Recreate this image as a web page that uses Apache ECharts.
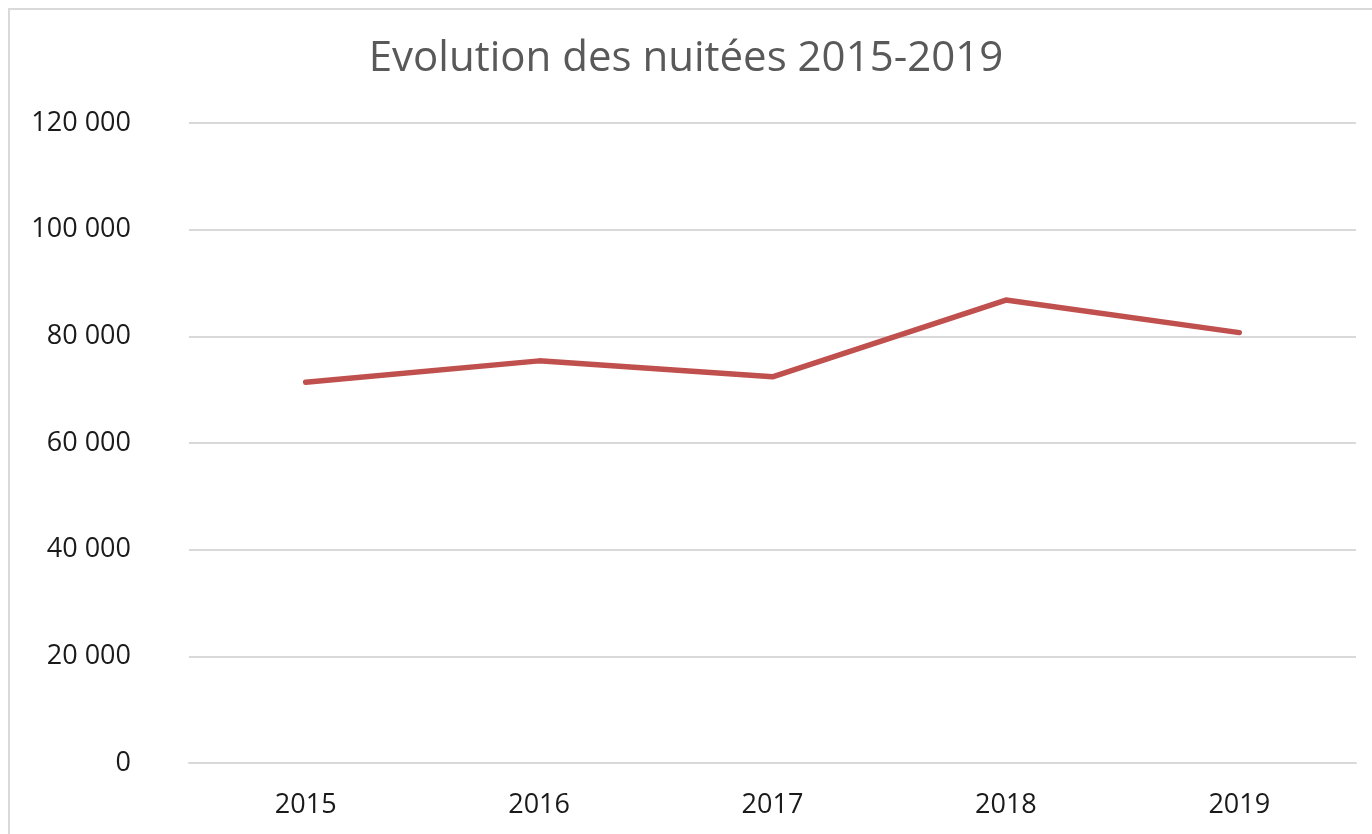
<!DOCTYPE html>
<html>
<head>
<meta charset="utf-8">
<script src="https://cdn.jsdelivr.net/npm/echarts@6/dist/echarts.min.js"></script>
<style>
  html, body { margin: 0; padding: 0; background: #fff; }
  #chart { width: 1372px; height: 834px; }
</style>
</head>
<body>
<div id="chart"></div>
<script>
var years = ['2015', '2016', '2017', '2018', '2019'];
var nuitees = [71400, 75400, 72400, 86800, 80700];

// séparateur de milliers avec espace
function fmt(v) {
  return String(v).replace(/\B(?=(\d{3})+(?!\d))/g, ' ');
}

var myChart = echarts.init(document.getElementById('chart'));
myChart.setOption({
  animation: false,
  textStyle: { fontFamily: 'Open Sans' },
  title: {
    text: 'Evolution des nuitées 2015-2019',
    left: 'center',
    top: 33,
    textStyle: { fontSize: 42, fontWeight: 'normal', color: '#595959', fontFamily: 'Open Sans' }
  },
  graphic: [{
    type: 'rect',
    silent: true,
    shape: { x: 9, y: 9, width: 1420, height: 900 },
    style: { fill: 'none', stroke: '#d9d9d9', lineWidth: 2 }
  }],
  grid: { left: 189, right: 16, top: 123, bottom: 71 },
  xAxis: {
    type: 'category',
    data: years,
    boundaryGap: true,
    axisLine: { lineStyle: { color: '#d9d9d9', width: 2 } },
    axisTick: { show: false },
    axisLabel: { fontSize: 27, color: '#1a1a1a', margin: 29 }
  },
  yAxis: {
    type: 'value',
    min: 0,
    max: 120000,
    interval: 20000,
    axisLine: { show: false },
    axisTick: { show: false },
    splitLine: { lineStyle: { color: '#d9d9d9', width: 2 } },
    axisLabel: { fontSize: 27, color: '#1a1a1a', margin: 58, formatter: fmt }
  },
  series: [{
    name: 'Nuitées',
    type: 'line',
    data: nuitees,
    symbol: 'none',
    lineStyle: { color: '#c0504d', width: 5.5, cap: 'round', join: 'round' }
  }]
});
</script>
</body>
</html>
